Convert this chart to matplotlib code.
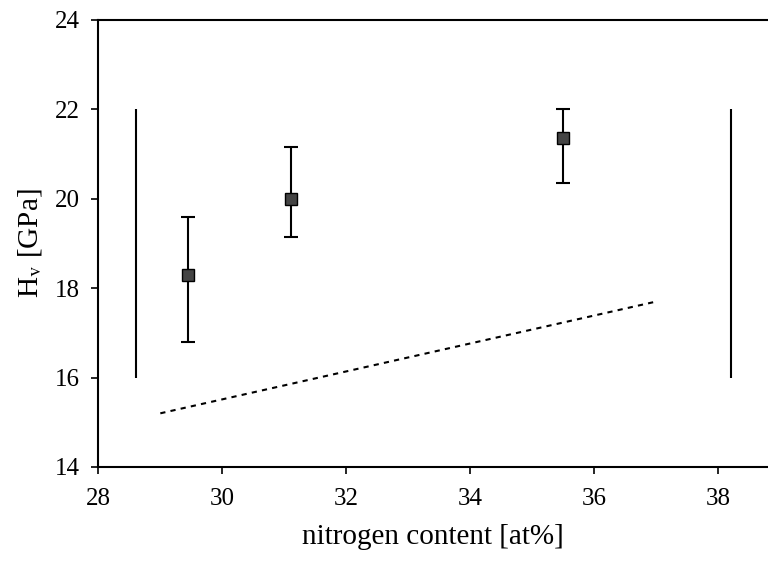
import matplotlib
matplotlib.use('Agg')
import matplotlib.pyplot as plt

plt.rcParams['font.family'] = ['Liberation Serif', 'DejaVu Serif']
plt.rcParams['mathtext.fontset'] = 'stix'

# measured points
nitrogen = [29.45, 31.1, 35.5]
hardness = [18.3, 20.0, 21.35]
err_low = [16.8, 19.15, 20.35]
err_high = [19.6, 21.15, 22.0]

# vertical boundary lines
bound_x = [28.6, 38.2]
bound_lo = 16
bound_hi = 22

# dotted trend
trend_x = [29.0, 37.0]
trend_y = [15.2, 17.7]

fig = plt.figure(figsize=(7.68, 5.64), dpi=100)
ax = fig.add_axes([0.128, 0.172, 0.872, 0.793])

yerr = [[h - l for h, l in zip(hardness, err_low)],
        [u - h for h, u in zip(hardness, err_high)]]
ax.errorbar(nitrogen, hardness, yerr=yerr, fmt='s', color='#444444', mec='black',
            ms=8, ecolor='black', elinewidth=1.5, capsize=5, capthick=1.5)
ax.vlines(bound_x, bound_lo, bound_hi, color='black', lw=1.5)
ax.plot(trend_x, trend_y, color='black', lw=1.5, dashes=(2.5, 2.5))

ax.set_xlim(28, 38.8)
ax.set_ylim(14, 24)
ax.set_xticks([28, 30, 32, 34, 36, 38])
ax.set_yticks([14, 16, 18, 20, 22, 24])
ax.tick_params(axis='x', labelsize=18, direction='out', length=5, width=1.2, pad=10)
ax.tick_params(axis='y', labelsize=18, direction='out', length=5, width=1.2, pad=8)
for lab in ax.get_xticklabels() + ax.get_yticklabels():
    lab.set_fontsize(18)
for s in ['left', 'bottom', 'top']:
    ax.spines[s].set_linewidth(1.5)
ax.spines['right'].set_visible(False)
ax.set_xlabel('nitrogen content [at%]', fontsize=21, labelpad=10)
ax.set_ylabel('H$_\\mathrm{v}$ [GPa]', fontsize=21, labelpad=8)

fig.savefig('out.png', dpi=100)
